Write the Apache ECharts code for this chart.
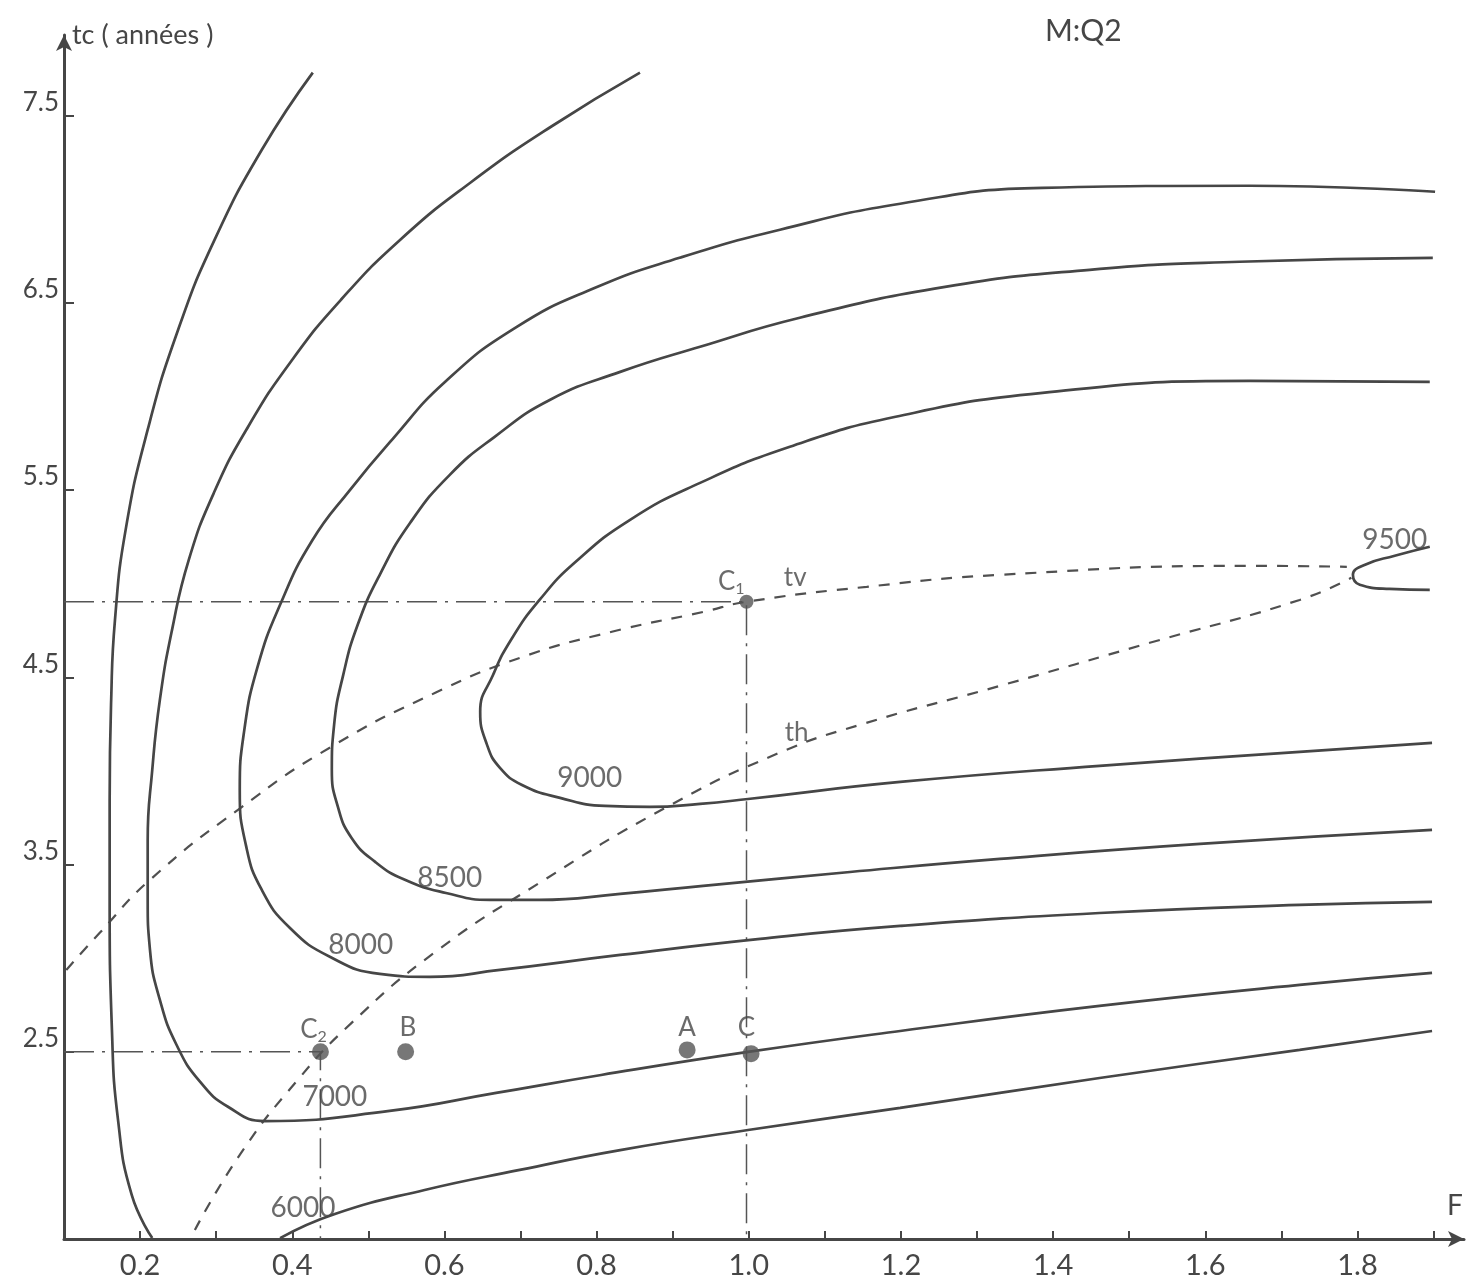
<!DOCTYPE html>
<html>
<head>
<meta charset="utf-8">
<script src="https://cdn.jsdelivr.net/npm/echarts@6/dist/echarts.min.js"></script>
<style>
html,body{margin:0;padding:0;background:#fff;}
#chart{width:1467px;height:1284px;}
</style>
</head>
<body>
<div id="chart"></div>
<script>
// ---- data (F, tc) ----
const xTickValues = [0.2,0.3,0.4,0.5,0.6,0.7,0.8,0.9,1.0,1.1,1.2,1.3,1.4,1.5,1.6,1.7,1.8,1.9];
const xLabelValues = [0.2,0.4,0.6,0.8,1.0,1.2,1.4,1.6,1.8];
const yTickValues = [2.5,3.5,4.5,5.5,6.5,7.5];

const c6000Left = [[0.427,7.729],[0.360,7.317],[0.298,6.837],[0.250,6.356],[0.210,5.822],[0.181,5.287],[0.167,4.807],[0.162,4.379],[0.160,3.845],[0.160,3.311],[0.163,2.616],[0.171,2.136],[0.189,1.735],[0.216,1.505]];
const c6000Low = [[0.384,1.505],[0.456,1.634],[0.574,1.762],[0.699,1.869],[0.831,1.975],[0.999,2.082],[1.199,2.200],[1.461,2.360],[1.724,2.510],[1.898,2.611]];
const c7000 = [[0.857,7.729],[0.740,7.440],[0.634,7.141],[0.542,6.837],[0.464,6.516],[0.400,6.196],[0.342,5.838],[0.297,5.485],[0.264,5.127],[0.242,4.753],[0.226,4.379],[0.216,4.005],[0.210,3.631],[0.210,3.311],[0.213,3.044],[0.226,2.777],[0.248,2.536],[0.279,2.339],[0.316,2.205],[0.364,2.130],[0.528,2.184],[0.668,2.280],[0.806,2.376],[0.999,2.499],[1.199,2.611],[1.461,2.745],[1.724,2.857],[1.898,2.921]];
const c8000 = [[1.902,7.093],[1.658,7.125],[1.386,7.114],[1.199,7.029],[1.041,6.890],[0.909,6.740],[0.798,6.580],[0.693,6.366],[0.601,6.078],[0.531,5.768],[0.476,5.501],[0.426,5.229],[0.384,4.887],[0.354,4.550],[0.337,4.219],[0.331,3.898],[0.339,3.605],[0.360,3.364],[0.397,3.161],[0.450,3.006],[0.515,2.916],[0.581,2.900],[0.673,2.937],[0.831,3.017],[1.015,3.103],[1.199,3.172],[1.461,3.241],[1.724,3.284],[1.898,3.300]];
const c8500 = [[1.899,6.740],[1.645,6.719],[1.448,6.676],[1.258,6.585],[1.067,6.420],[0.936,6.265],[0.831,6.131],[0.739,5.982],[0.666,5.784],[0.607,5.581],[0.555,5.325],[0.515,5.047],[0.486,4.780],[0.467,4.513],[0.455,4.246],[0.452,4.005],[0.460,3.808],[0.478,3.642],[0.509,3.514],[0.548,3.418],[0.602,3.348],[0.660,3.311],[0.725,3.311],[0.831,3.343],[0.940,3.386],[1.133,3.460],[1.330,3.530],[1.593,3.610],[1.898,3.685]];
const c9000 = [[1.895,6.078],[1.658,6.083],[1.386,6.019],[1.193,5.891],[1.054,5.731],[0.936,5.538],[0.844,5.341],[0.771,5.111],[0.725,4.913],[0.689,4.710],[0.664,4.513],[0.647,4.315],[0.656,4.139],[0.673,4.016],[0.702,3.925],[0.752,3.856],[0.811,3.813],[0.870,3.808],[0.936,3.824],[0.999,3.850],[1.199,3.941],[1.461,4.027],[1.724,4.102],[1.898,4.150]];
const c9500 = [[1.895,5.197],[1.849,5.149],[1.810,5.101],[1.794,5.047],[1.803,4.994],[1.842,4.972],[1.895,4.967]];

const tvCurve = [[0.103,2.937],[0.147,3.135],[0.213,3.418],[0.334,3.808],[0.451,4.128],[0.588,4.417],[0.703,4.609],[0.820,4.743],[0.940,4.849],[0.997,4.903],[1.155,4.983],[1.330,5.047],[1.658,5.095],[1.786,5.090]];
const thCurve = [[0.272,1.548],[0.331,1.949],[0.405,2.339],[0.478,2.654],[0.588,3.033],[0.725,3.402],[0.890,3.802],[1.037,4.091],[1.146,4.246],[1.330,4.454],[1.527,4.684],[1.724,4.913],[1.792,5.031]];

const refLineC1 = [[0.1,4.903],[0.997,4.903],[0.997,1.5]];
const refLineC2 = [[0.1,2.5],[0.437,2.5],[0.437,1.5]];

const pointNames = ['C2','B','A','C','C1'];
const pointX = [0.437,0.549,0.919,1.003,0.997];
const pointY = [2.50,2.50,2.51,2.49,4.903];
const pointSizes = [17,17,17,17,14];

const contourLabels = [['9000',0.791,3.963],['8500',0.607,3.428],['8000',0.490,3.071],['7000',0.456,2.259],['6000',0.414,1.666],['9500',1.849,5.234]];
const curveLabels = [['tv',1.061,5.031],['th',1.063,4.203]];
const pointLabels = [['C{s|2}',0.428,2.616],['B',0.552,2.627],['A',0.919,2.627],['C',0.997,2.627],['C{s|1}',0.977,5.010]];

// ---- chart ----
const FONT = 'Lato, "Noto Sans", sans-serif';
const INK = '#464646';
const chart = echarts.init(document.getElementById('chart'));

function contour(data){
  return {type:'line', data:data, smooth:0.5, symbol:'none', silent:true,
    lineStyle:{color:INK, width:2.7}, z:3};
}
function dashed(data){
  return {type:'line', data:data, smooth:0.5, symbol:'none', silent:true,
    lineStyle:{color:'#505050', width:2.2, type:[11,10]}, z:2};
}
function refLine(data){
  return {type:'line', data:data, symbol:'none', silent:true,
    lineStyle:{color:'#555', width:1.5, type:[30,8,3,8]}, z:1};
}
function textSeries(items, size){
  return {type:'scatter', symbolSize:0, silent:true, z:5,
    data: items.map(d=>({value:[d[1],d[2]], name:d[0]})),
    label:{show:true, position:'inside', formatter:p=>p.name, color:INK,
      fontFamily:FONT, fontSize:size,
      rich:{s:{fontSize:Math.round(size*0.62), fontFamily:FONT, color:INK, padding:[14,0,0,0]}}}};
}

chart.setOption({
  animation:false,
  backgroundColor:'#fff',
  grid:{left:64, right:3, top:35, bottom:45, containLabel:false},
  xAxis:{type:'value', min:0.1, max:1.94,
    axisLine:{show:true, lineStyle:{color:INK, width:3}, symbol:['none','arrow'], symbolSize:[12,16]},
    axisTick:{show:true, inside:true, length:8, lineStyle:{color:INK, width:2}, customValues:xTickValues},
    axisLabel:{show:true, customValues:xLabelValues, formatter:v=>v.toFixed(1), color:INK,
      fontFamily:FONT, fontSize:29, margin:12},
    splitLine:{show:false}},
  yAxis:{type:'value', min:1.5, max:7.93,
    axisLine:{show:true, lineStyle:{color:INK, width:3}, symbol:['none','arrow'], symbolSize:[12,16]},
    axisTick:{show:true, inside:true, length:10, lineStyle:{color:INK, width:2}, customValues:yTickValues},
    axisLabel:{show:true, customValues:yTickValues, formatter:v=>v.toFixed(1), color:INK,
      fontFamily:FONT, fontSize:26, margin:5, verticalAlign:'bottom'},
    splitLine:{show:false}},
  graphic:[
    {type:'text', left:72, top:22, style:{text:'tc ( années )', fill:INK, font:'27px '+FONT}},
    {type:'text', left:1045, top:16, style:{text:'M:Q2', fill:INK, font:'30px '+FONT}},
    {type:'text', left:1447, top:1192, style:{text:'F', fill:INK, font:'28px '+FONT}}
  ],
  series:[
    refLine(refLineC1), refLine(refLineC2),
    contour(c6000Left), contour(c6000Low), contour(c7000), contour(c8000),
    contour(c8500), contour(c9000), contour(c9500),
    dashed(tvCurve), dashed(thCurve),
    {type:'scatter', silent:true, z:4, itemStyle:{color:'#555'},
      data: pointNames.map((n,i)=>({name:n, value:[pointX[i], pointY[i]], symbolSize:pointSizes[i]}))},
    textSeries(contourLabels, 28),
    textSeries(curveLabels, 26),
    textSeries(pointLabels, 26)
  ]
});
</script>
</body>
</html>
